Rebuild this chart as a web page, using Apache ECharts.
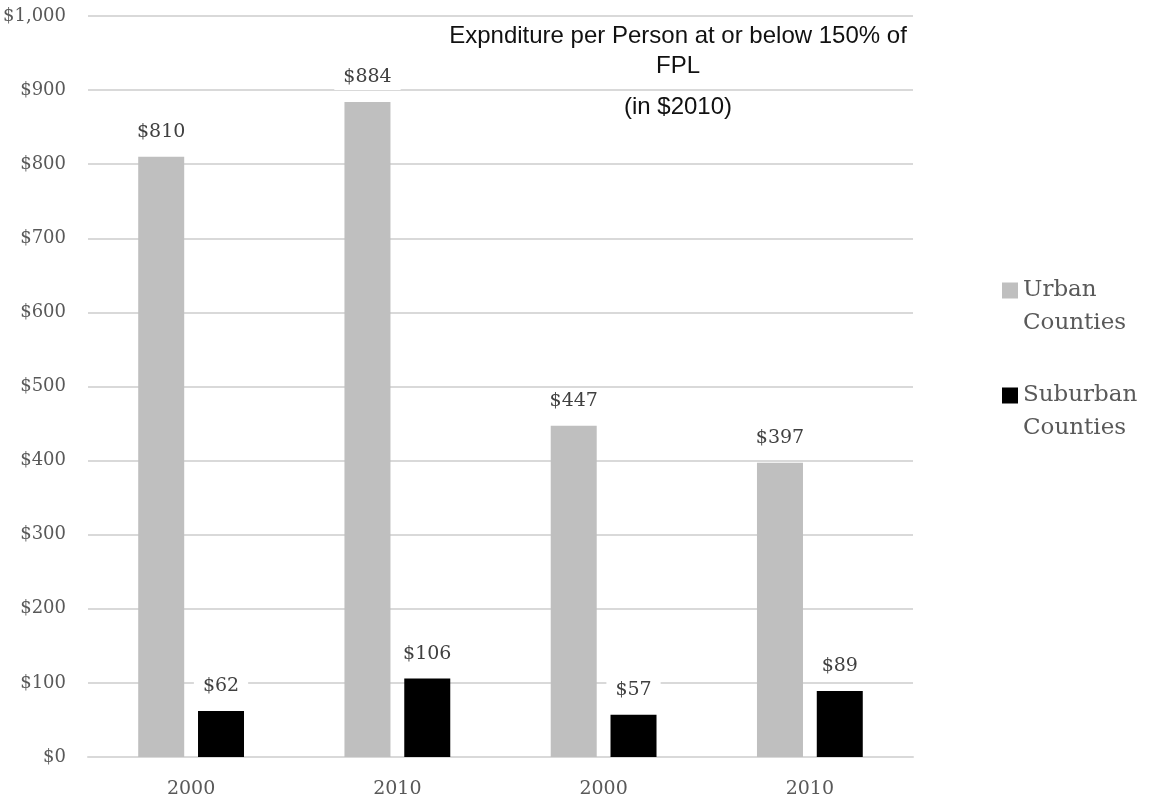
<!DOCTYPE html>
<html>
<head>
<meta charset="utf-8">
<script src="https://cdn.jsdelivr.net/npm/echarts@6/dist/echarts.min.js"></script>
<style>
html,body{margin:0;padding:0;background:#fff;}
#chart{width:1149px;height:803px;}
</style>
</head>
<body>
<div id="chart"></div>
<script>
const categories = ['2000', '2010', '2000', '2010'];
const urbanValues = [810, 884, 447, 397];
const suburbanValues = [62, 106, 57, 89];
const seriesNames = ['Urban\nCounties', 'Suburban\nCounties'];
const yTicks = { min: 0, max: 1000, interval: 100 };

const serif = 'DejaVu Serif';
const chart = echarts.init(document.getElementById('chart'));

const labelCfg = {
  show: true,
  position: 'top',
  distance: 12,
  formatter: p => '$' + p.value,
  fontFamily: serif,
  fontSize: 19,
  color: '#404040',
  backgroundColor: '#ffffff',
  padding: [3, 9]
};

chart.setOption({
  animation: false,
  backgroundColor: '#ffffff',
  title: [
    {
      text: 'Expnditure per Person at or below 150% of\nFPL',
      left: 678, top: 21, padding: 0, textAlign: 'center',
      textStyle: { fontFamily: 'Liberation Sans', fontSize: 24, fontWeight: 'normal', color: '#111', lineHeight: 30 }
    },
    {
      text: '(in $2010)',
      left: 678, top: 92, padding: 0, textAlign: 'center',
      textStyle: { fontFamily: 'Liberation Sans', fontSize: 24, fontWeight: 'normal', color: '#111', lineHeight: 30 }
    }
  ],
  legend: {
    orient: 'vertical',
    left: 1002, top: 274, padding: 0,
    itemWidth: 16, itemHeight: 49, itemGap: 39,
    icon: 'path://M0,0H16V16H0Z M0,48.9H0.1V49H0Z',
    textStyle: { fontFamily: serif, fontSize: 23, color: '#595959', lineHeight: 33 },
    data: seriesNames
  },
  grid: { left: 87, right: 236, top: 16, bottom: 46 },
  xAxis: {
    type: 'category',
    data: categories,
    axisLine: { lineStyle: { color: '#d9d9d9', width: 2 } },
    axisTick: { show: false },
    axisLabel: { fontFamily: serif, fontSize: 19, color: '#595959', margin: 22, lineHeight: 20 }
  },
  yAxis: {
    type: 'value',
    min: yTicks.min, max: yTicks.max, interval: yTicks.interval,
    axisLine: { show: false },
    axisTick: { show: false },
    splitLine: { lineStyle: { color: '#d9d9d9', width: 2 } },
    axisLabel: {
      fontFamily: serif, fontSize: 18, color: '#595959', margin: 22,
      formatter: v => '$' + v.toLocaleString('en-US')
    }
  },
  series: [
    {
      name: seriesNames[0], type: 'bar', data: urbanValues,
      barWidth: 46, barGap: '30%',
      itemStyle: { color: '#bfbfbf' },
      label: labelCfg
    },
    {
      name: seriesNames[1], type: 'bar', data: suburbanValues,
      barWidth: 46, barGap: '30%',
      itemStyle: { color: '#000000' },
      label: labelCfg
    }
  ]
});
</script>
</body>
</html>
